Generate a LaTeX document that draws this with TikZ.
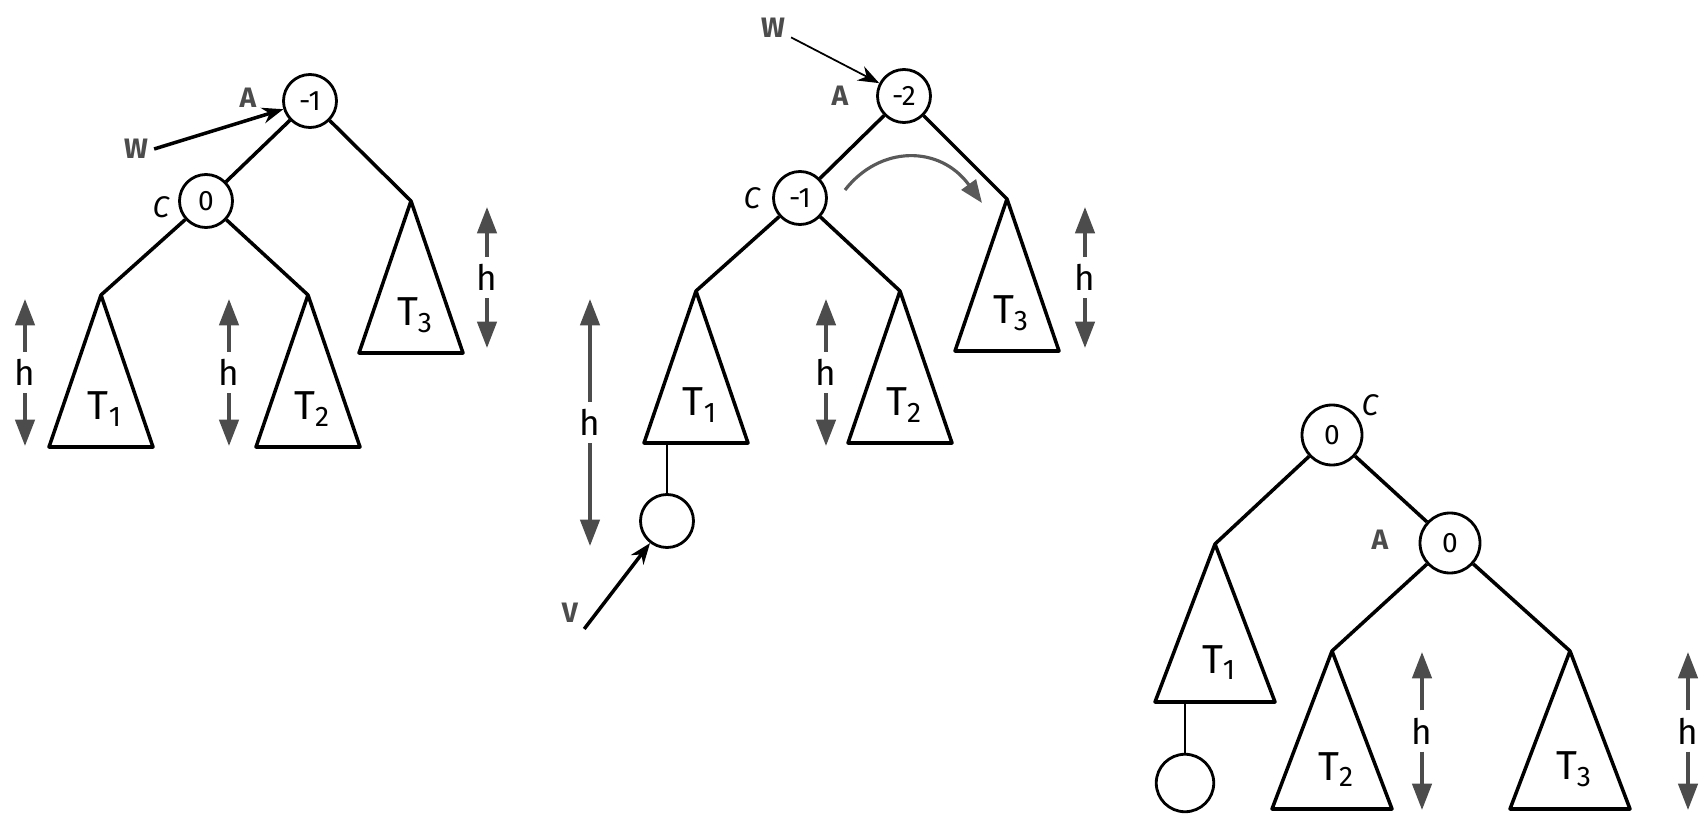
\documentclass[tikz,border=0pt]{standalone}
\usepackage{fontspec}
\setmainfont{Fira Sans}
\usetikzlibrary{arrows.meta}
\tikzset{
    >=Stealth[round],
    bal/.style = {draw, circle, line width=1.6pt, minimum size=10.6mm, inner sep=0pt,
                  font=\fontsize{16}{16}\selectfont},
    edge/.style = {line width=2pt, line join=round},
    tag/.style = {font=\fontsize{17}{17}\selectfont\itshape},
    ptr/.style = {font=\fontsize{16}{16}\selectfont\bfseries, text=black!70},
    ptrarrow/.style = {line width=2pt, -{Stealth[length=12pt,width=9pt]}},
    gauge/.style = {draw=black!70, line width=2pt, -{Triangle[length=15pt,width=11pt]}},
    turn/.style = {draw=black!65, line width=1.8pt, -{Triangle[length=13pt,width=10pt]}},
    hlab/.style = {font=\fontsize{20}{20}\selectfont, inner sep=4pt},
    tlab/.style = {font=\fontsize{23}{23}\selectfont},
}

% subtree: name, apex x, apex y, index
\def\trihalf{52}
\def\trih{152}
\newcommand\subtree[4]{%
  \coordinate (#1) at (#2,#3);
  \draw[edge] (#1) -- ++(-\trihalf,\trih) -- ++(2*\trihalf,0) -- cycle;
  \node (#1lbl) [tlab] at (#2+4,#3+0.75*\trih) {T\textsubscript{#4}};
}
% height marker: name, x, top y, bottom y
\newcommand\hgauge[4]{%
  \node (#1) [hlab] at (#2,{(#3+#4)/2}) {h};
  \coordinate (#1top) at (#2,#3);
  \coordinate (#1bot) at (#2,#4);
  \draw[gauge] (#1) -- (#1top);
  \draw[gauge] (#1) -- (#1bot);
}

\begin{document}
\begin{tikzpicture}[x=0.2mm, y=-0.2mm]
\useasboundingbox (0,0) rectangle (1705,814);

% before insertion
\node (A1) [bal] at (310,101) {-1};
\node (C1) [bal] at (206,201) {0};
\node (A1tag) [ptr] at (248,98) {A};
\node (C1tag) [tag] at (161,207) {C};
\node (W1) [ptr] at (136,149) {W};
\draw[ptrarrow] (W1.east) -- (A1);
\subtree{P1}{101}{295}{1}
\subtree{P2}{308}{295}{2}
\subtree{P3}{411}{201}{3}
\draw[edge] (A1) -- (C1) (A1) -- (P3) (C1) -- (P1) (C1) -- (P2);
\hgauge{ph1}{25}{299}{446}
\hgauge{ph2}{229}{299}{446}
\hgauge{ph3}{487}{207}{348}

% after insertion into T1
\node (A2) [bal] at (904,96) {-2};
\node (C2) [bal] at (800,198) {-1};
\node (A2tag) [ptr] at (840,96) {A};
\node (C2tag) [tag] at (752,198) {C};
\node (W2) [ptr] at (773,28) {W};
\draw[ptrarrow, line width=1pt] (W2) -- (A2);
\subtree{Q1}{696}{291}{1}
\subtree{Q2}{900}{291}{2}
\subtree{Q3}{1007}{199}{3}
\draw[edge] (A2) -- (C2) (A2) -- (Q3) (C2) -- (Q1) (C2) -- (Q2);
\node (leaf2) [bal] at (667,521) {};
\coordinate (Q1foot) at (667,443);
\draw[line width=1.4pt] (Q1foot) -- (leaf2);
\node (V2) [ptr] at (570,613) {V};
\draw[ptrarrow] (V2.south east) -- (leaf2);
\coordinate (rotS) at (845,190);
\coordinate (rotE) at (982,203);
\draw[turn] (rotS) .. controls (880,145) and (940,145) .. (rotE);
\hgauge{qh1}{590}{299}{546}
\hgauge{qh2}{826}{299}{446}
\hgauge{qh3}{1085}{207}{348}

% after the rotation
\def\trihalf{60}
\def\trih{158}
\node (C3) [bal, minimum size=12mm] at (1332,435) {0};
\node (A3) [bal, minimum size=12mm] at (1450,543) {0};
\node (C3tag) [tag] at (1370,405) {C};
\node (A3tag) [ptr] at (1380,540) {A};
\subtree{R1}{1215}{544}{1}
\subtree{R2}{1332}{651}{2}
\subtree{R3}{1570}{651}{3}
\draw[edge] (C3) -- (R1) (C3) -- (A3) (A3) -- (R2) (A3) -- (R3);
\node (leaf3) [bal, minimum size=11.5mm] at (1185,783) {};
\coordinate (R1foot) at (1185,702);
\draw[line width=1.4pt] (R1foot) -- (leaf3);
\hgauge{rh1}{1422}{652}{810}
\hgauge{rh2}{1688}{652}{810}
\end{tikzpicture}
\end{document}
